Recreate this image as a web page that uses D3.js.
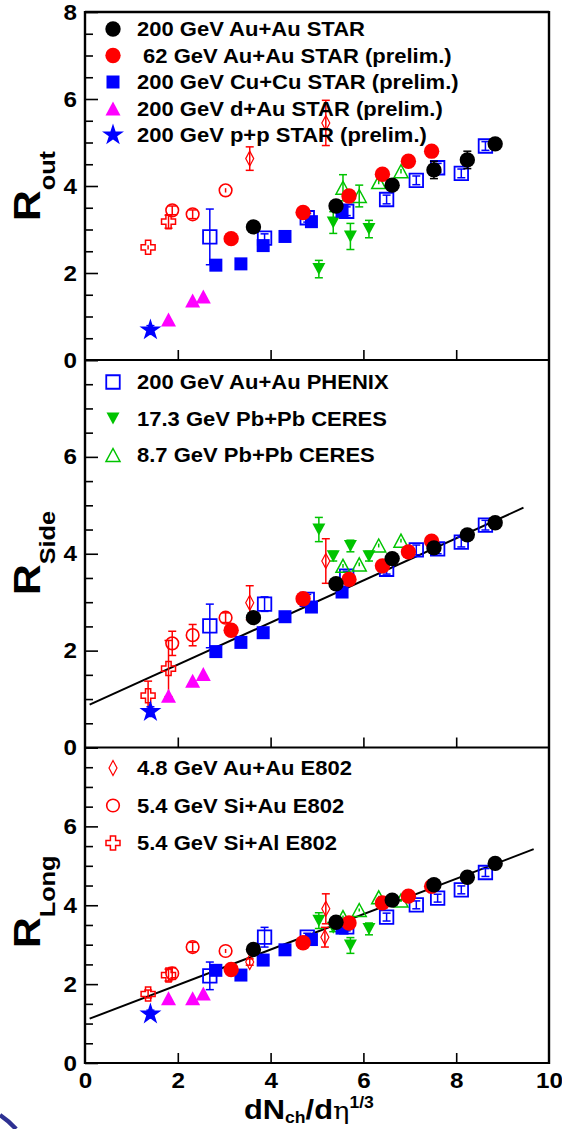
<!DOCTYPE html>
<html><head><meta charset="utf-8">
<script src="https://cdn.jsdelivr.net/npm/d3@7"></script>
<style>
body{margin:0;background:#fff}
svg{display:block}
text{font-family:"Liberation Sans",Arial,Helvetica,sans-serif;font-weight:bold;fill:#000}
</style>
</head><body>
<svg id="c" width="562" height="1129"></svg>
<script>
// ---------------- DATA ----------------
const xTicks = [0, 2, 4, 6, 8, 10];
const yTicksTop = [0, 2, 4, 6, 8];
const yTicksLower = [0, 2, 4, 6];

// 200 GeV Au+Au STAR
const xAuAu200 = [3.63, 5.41, 6.62, 7.52, 8.24, 8.84];
const outAuAu200 = [3.06, 3.54, 4.02, 4.37, 4.60, 4.97];
const sideAuAu200 = [2.68, 3.38, 3.90, 4.12, 4.39, 4.64];
const longAuAu200 = [2.88, 3.57, 4.13, 4.52, 4.71, 5.06];
const eOutAuAu200 = [0.10, 0.10, 0.10, 0.20, 0.20, 0.10];
const eSideAuAu200 = [0.08, 0.08, 0.08, 0.08, 0.08, 0.08];
const eLongAuAu200 = [0.08, 0.08, 0.08, 0.08, 0.08, 0.08];
// 62 GeV Au+Au STAR
const xAuAu62 = [3.15, 4.70, 5.69, 6.41, 6.97, 7.47];
const outAuAu62 = [2.79, 3.39, 3.77, 4.27, 4.57, 4.80];
const sideAuAu62 = [2.42, 3.07, 3.47, 3.75, 4.04, 4.26];
const longAuAu62 = [2.37, 3.05, 3.55, 4.06, 4.23, 4.48];
const eOutAuAu62 = [0.10, 0.10, 0.10, 0.10, 0.10, 0.10];
const eSideAuAu62 = [0.08, 0.08, 0.08, 0.08, 0.08, 0.08];
const eLongAuAu62 = [0.08, 0.08, 0.08, 0.08, 0.08, 0.08];
// 200 GeV Cu+Cu STAR
const xCuCu = [2.82, 3.36, 3.84, 4.31, 4.88, 5.54];
const outCuCu = [2.18, 2.21, 2.63, 2.84, 3.18, 3.42];
const sideCuCu = [1.98, 2.17, 2.37, 2.70, 2.90, 3.21];
const longCuCu = [2.35, 2.23, 2.61, 2.87, 3.13, 3.42];
// 200 GeV d+Au STAR
const xDAu = [1.80, 2.32, 2.55];
const outDAu = [0.93, 1.37, 1.46];
const sideDAu = [1.07, 1.38, 1.52];
const longDAu = [1.64, 1.64, 1.76];
// 200 GeV p+p STAR
const xPP = [1.41];
const outPP = [0.69];
const sidePP = [0.74];
const longPP = [1.24];
// 200 GeV Au+Au PHENIX
const xPhenix = [2.69, 3.87, 4.79, 5.64, 6.50, 7.14, 7.60, 8.11, 8.63];
const outPhenix = [2.83, 2.80, 3.27, 3.42, 3.69, 4.13, 4.42, 4.29, 4.92];
const sidePhenix = [2.51, 2.96, 3.06, 3.54, 3.68, 4.08, 4.10, 4.24, 4.59];
const longPhenix = [2.21, 3.19, 3.19, 3.45, 3.70, 4.01, 4.18, 4.39, 4.83];
const eOutPhenix = [0.64, 0.10, 0.10, 0.10, 0.10, 0.10, 0.10, 0.10, 0.10];
const eSidePhenix = [0.45, 0.15, 0.10, 0.10, 0.10, 0.10, 0.10, 0.10, 0.10];
const eLongPhenix = [0.35, 0.25, 0.10, 0.10, 0.10, 0.10, 0.10, 0.10, 0.10];
// 17.3 GeV Pb+Pb CERES
const xCeres17 = [5.04, 5.35, 5.72, 6.12];
const outCeres17 = [2.09, 3.16, 2.84, 3.01];
const sideCeres17 = [4.50, 3.95, 4.16, 3.95];
const longCeres17 = [3.61, 3.43, 2.98, 3.40];
const eOutCeres17 = [0.20, 0.25, 0.30, 0.20];
const eSideCeres17 = [0.25, 0.10, 0.12, 0.10];
const eLongCeres17 = [0.20, 0.10, 0.20, 0.15];
// 8.7 GeV Pb+Pb CERES
const xCeres87 = [5.56, 5.91, 6.33, 6.81];
const outCeres87 = [3.96, 3.77, 4.09, 4.34];
const sideCeres87 = [3.75, 3.78, 4.17, 4.27];
const longCeres87 = [3.70, 3.88, 4.20, 4.12];
const eOutCeres87 = [0.30, 0.25, 0.05, 0.05];
// 4.8 GeV Au+Au E802
const xE802AuAu = [3.55, 5.19];
const xE802AuAuLong = [3.55, 5.19, 5.17];
const outE802AuAu = [4.63, 5.45];
const sideE802AuAu = [2.99, 3.85];
const longE802AuAu = [2.56, 3.91, 3.19];
const eOutE802AuAu = [0.27, 0.52];
const eSideE802AuAu = [0.35, 0.46];
const eLongE802AuAu = [0.08, 0.38, 0.25];
// 5.4 GeV Si+Au E802
const xSiAu = [1.88, 2.32, 3.03];
const outSiAu = [3.44, 3.35, 3.90];
const sideSiAu = [2.15, 2.32, 2.68];
const longSiAu = [2.27, 2.94, 2.84];
const eOutSiAu = [0.10, 0.10, 0.05];
const eSideSiAu = [0.25, 0.22, 0.10];
const eLongSiAu = [0.15, 0.12, 0.05];
// 5.4 GeV Si+Al E802
const xSiAl = [1.36, 1.80];
const outSiAl = [2.59, 3.18];
const sideSiAl = [1.07, 1.63];
const longSiAl = [1.75, 2.23];
const eOutSiAl = [0.05, 0.15];
const eSideSiAl = [0.30, 0.58];
const eLongSiAl = [0.10, 0.15];

// linear fits (intercept, slope) and x ranges
const fitSide = [0.84, 0.435], fitSideRange = [0.1, 9.45];
const fitLong = [1.08, 0.449], fitLongRange = [0.1, 9.67];

const legendTop = ["200 GeV Au+Au STAR", " 62 GeV Au+Au STAR (prelim.)", "200 GeV Cu+Cu STAR (prelim.)", "200 GeV d+Au STAR (prelim.)", "200 GeV p+p STAR (prelim.)"];
const legendMid = ["200 GeV Au+Au PHENIX", "17.3 GeV Pb+Pb CERES", "8.7 GeV Pb+Pb CERES"];
const legendBot = ["4.8 GeV Au+Au E802", "5.4 GeV Si+Au E802", "5.4 GeV Si+Al E802"];

// ---------------- STYLE / SERIES TABLE ----------------
const RED = "#ff0000", BLUE = "#0000ff", GREEN = "#00c400", MAG = "#ff00ff", BLK = "#000000";
const zeros = n => new Array(n).fill(0.04);
const series = {
  phenix:  {x:[xPhenix,xPhenix,xPhenix], y:[outPhenix,sidePhenix,longPhenix], e:[eOutPhenix,eSidePhenix,eLongPhenix], m:"osq", c:BLUE},
  ceres17: {x:[xCeres17,xCeres17,xCeres17], y:[outCeres17,sideCeres17,longCeres17], e:[eOutCeres17,eSideCeres17,eLongCeres17], m:"tdn", c:GREEN},
  ceres87: {x:[xCeres87,xCeres87,xCeres87], y:[outCeres87,sideCeres87,longCeres87], e:[eOutCeres87,zeros(4),zeros(4)], m:"otri", c:GREEN},
  e802auau:{x:[xE802AuAu,xE802AuAu,xE802AuAuLong], y:[outE802AuAu,sideE802AuAu,longE802AuAu], e:[eOutE802AuAu,eSideE802AuAu,eLongE802AuAu], m:"dia", c:RED},
  siau:    {x:[xSiAu,xSiAu,xSiAu], y:[outSiAu,sideSiAu,longSiAu], e:[eOutSiAu,eSideSiAu,eLongSiAu], m:"ocirc", c:RED},
  sial:    {x:[xSiAl,xSiAl,xSiAl], y:[outSiAl,sideSiAl,longSiAl], e:[eOutSiAl,eSideSiAl,eLongSiAl], m:"ocross", c:RED},
  cucu:    {x:[xCuCu,xCuCu,xCuCu], y:[outCuCu,sideCuCu,longCuCu], e:[zeros(6),zeros(6),zeros(6)], m:"sq", c:BLUE},
  dau:     {x:[xDAu,xDAu,xDAu], y:[outDAu,sideDAu,longDAu], e:[zeros(3),zeros(3),zeros(3)], m:"tri", c:MAG},
  pp:      {x:[xPP,xPP,xPP], y:[outPP,sidePP,longPP], e:[[0.1],[0.1],[0.1]], m:"star", c:BLUE},
  auau62:  {x:[xAuAu62,xAuAu62,xAuAu62], y:[outAuAu62,sideAuAu62,longAuAu62], e:[eOutAuAu62,eSideAuAu62,eLongAuAu62], m:"circ", c:RED},
  auau200: {x:[xAuAu200,xAuAu200,xAuAu200], y:[outAuAu200,sideAuAu200,longAuAu200], e:[eOutAuAu200,eSideAuAu200,eLongAuAu200], m:"circ", c:BLK}
};
const drawOrder = ["phenix","ceres17","ceres87","e802auau","siau","sial","cucu","dau","pp","auau62","auau200"];

function markerPath(m){
  switch(m){
    case "circ": return d3.symbol(d3.symbolCircle, 185)();
    case "ocirc": return d3.symbol(d3.symbolCircle, 125)();
    case "sq": { const s=13; return `M${-s/2},${-s/2}h${s}v${s}h${-s}Z`; }
    case "osq": { const s=13.5; return `M${-s/2},${-s/2}h${s}v${s}h${-s}Z`; }
    case "tri": { const w=15,h=14; return `M0,${-h/2}L${w/2},${h/2}L${-w/2},${h/2}Z`; }
    case "otri": { const w=14,h=13; return `M0,${-h/2}L${w/2},${h/2}L${-w/2},${h/2}Z`; }
    case "tdn": { const w=13,h=12; return `M0,${h/2}L${w/2},${-h/2}L${-w/2},${-h/2}Z`; }
    case "dia": { const w=8,h=15; return `M0,${-h/2}L${w/2},0L0,${h/2}L${-w/2},0Z`; }
    case "ocross": { const a=2.6,L=7; return `M${-a},${-L}H${a}V${-a}H${L}V${a}H${a}V${L}H${-a}V${a}H${-L}V${-a}H${-a}Z`; }
    case "star": return d3.symbol(d3.symbolStar, 150)();
  }
}
const filled = m => ["circ","sq","tri","tdn","star"].includes(m);
const sw = m => ({osq:1.8, otri:1.5, dia:1.2, ocirc:1.6, ocross:1.5})[m] || 0;

// ---------------- LAYOUT ----------------
const svg = d3.select("#c");
const X0 = 85, X1 = 549;
const x = d3.scaleLinear().domain([0,10]).range([X0, X1]);
const panels = [
  {range:[360,12], yTicks:yTicksTop, sub:"out", titleStart:221, fit:null, legend:legendTop, legKeys:["auau200","auau62","cucu","dau","pp"], legY:29, legStep:26.5},
  {range:[747.5,360], yTicks:yTicksLower, sub:"Side", titleStart:595, fit:[fitSide,fitSideRange], legend:legendMid, legKeys:["phenix","ceres17","ceres87"], legY:382, legStep:36.5},
  {range:[1063,747.5], yTicks:yTicksLower, sub:"Long", titleStart:948, fit:[fitLong,fitLongRange], legend:legendBot, legKeys:["e802auau","siau","sial"], legY:768, legStep:37.5}
];

const TEXT_STRETCH = 1.1;

panels.forEach((p, pi) => {
  const y = d3.scaleLinear().domain([0,8]).range(p.range);
  const g = svg.append("g");

  const minor = d3.range(0.5, 8, 0.5).filter(v => v % 2 !== 0);
  g.append("g").attr("transform",`translate(${X0},0)`)
    .call(d3.axisRight(y).tickValues(minor).tickSize(8).tickFormat(""))
    .call(s => s.select(".domain").remove())
    .selectAll("line").attr("stroke","#000").attr("stroke-width",1.6);
  g.append("g").attr("transform",`translate(${X0},0)`)
    .call(d3.axisRight(y).tickValues([0,2,4,6,8]).tickSize(13).tickFormat(""))
    .call(s => s.select(".domain").remove())
    .selectAll("line").attr("stroke","#000").attr("stroke-width",1.6);
  const yl = g.append("g").attr("transform",`translate(${X0},0)`)
    .call(d3.axisLeft(y).tickValues(p.yTicks).tickSize(0).tickPadding(8).tickFormat(d3.format("d")));
  yl.select(".domain").remove();
  yl.selectAll("text").attr("font-size",22).attr("font-weight","bold")
    .attr("font-family",'"Liberation Sans",Arial,sans-serif').attr("fill","#000")
    .each(function(){ const t=d3.select(this); const xx=+t.attr("x"); t.attr("x",null).attr("transform",`translate(${xx},0) scale(${TEXT_STRETCH},1)`); });

  g.append("g").attr("transform",`translate(0,${p.range[0]})`)
    .call(d3.axisTop(x).tickValues([2,4,6,8]).tickSize(10).tickFormat(""))
    .call(s => s.select(".domain").remove())
    .selectAll("line").attr("stroke","#000").attr("stroke-width",1.6);

  g.append("line").attr("x1",X0).attr("x2",X1).attr("y1",p.range[0]).attr("y2",p.range[0])
    .attr("stroke","#000").attr("stroke-width",2.2);

  if (p.fit){
    const [[a,b],[x0,x1]] = p.fit;
    const line = d3.line().x(d=>x(d)).y(d=>y(a+b*d));
    g.append("path").attr("d", line([x0,x1])).attr("stroke","#000").attr("stroke-width",2).attr("fill","none");
  }

  drawOrder.forEach(k => {
    const s = series[k];
    const xs = s.x[pi], ys = s.y[pi], es = s.e[pi];
    const pts = xs.map((xv,i)=>({x:xv, y:ys[i], e:es[i]}));
    const sg = g.append("g");
    const eb = sg.selectAll(".eb").data(pts).join("g");
    eb.append("line").attr("x1",d=>x(d.x)).attr("x2",d=>x(d.x))
      .attr("y1",d=>y(d.y-d.e)).attr("y2",d=>y(d.y+d.e)).attr("stroke",s.c).attr("stroke-width",1.5);
    eb.filter(d=>d.e>0.06).append("line").attr("x1",d=>x(d.x)-4).attr("x2",d=>x(d.x)+4)
      .attr("y1",d=>y(d.y+d.e)).attr("y2",d=>y(d.y+d.e)).attr("stroke",s.c).attr("stroke-width",1.5);
    eb.filter(d=>d.e>0.06).append("line").attr("x1",d=>x(d.x)-4).attr("x2",d=>x(d.x)+4)
      .attr("y1",d=>y(d.y-d.e)).attr("y2",d=>y(d.y-d.e)).attr("stroke",s.c).attr("stroke-width",1.5);
    sg.selectAll(".mk").data(pts).join("path")
      .attr("d", markerPath(s.m))
      .attr("transform", d=>`translate(${x(d.x)},${y(d.y)})`)
      .attr("fill", filled(s.m) ? s.c : "#fff")
      .attr("fill-opacity", filled(s.m) ? 1 : 0)
      .attr("stroke", filled(s.m) ? "none" : s.c)
      .attr("stroke-width", sw(s.m));
  });

  p.legKeys.forEach((k,i) => {
    const s = series[k];
    const ly = p.legY + i*p.legStep;
    g.append("path").attr("d", markerPath(s.m)).attr("transform",`translate(113,${ly})`)
      .attr("fill", filled(s.m) ? s.c : "none")
      .attr("stroke", filled(s.m) ? "none" : s.c)
      .attr("stroke-width", sw(s.m));
    g.append("text").attr("transform",`translate(137,${ly+7}) scale(${TEXT_STRETCH},1)`)
      .attr("font-size",20).style("white-space","pre").text(p.legend[i]);
  });

  const t = svg.append("text").attr("transform",`translate(40,${p.titleStart}) rotate(-90) scale(1.15,1)`);
  t.append("tspan").attr("font-size",37).text("R");
  t.append("tspan").attr("font-size",22).attr("dy",15).text(p.sub);
});

// frame
svg.append("line").attr("x1",X0).attr("x2",X0).attr("y1",11).attr("y2",1064).attr("stroke","#000").attr("stroke-width",2.4);
svg.append("line").attr("x1",X1).attr("x2",X1).attr("y1",11).attr("y2",1064).attr("stroke","#000").attr("stroke-width",2.4);
svg.append("line").attr("x1",X0).attr("x2",X1).attr("y1",12).attr("y2",12).attr("stroke","#000").attr("stroke-width",2.4);

// x labels
const xl = svg.append("g").attr("transform",`translate(0,1063)`)
  .call(d3.axisBottom(x).tickValues(xTicks).tickSize(0).tickPadding(9).tickFormat(d3.format("d")));
xl.select(".domain").remove();
xl.selectAll("text").attr("font-size",22).attr("font-weight","bold")
  .attr("font-family",'"Liberation Sans",Arial,sans-serif').attr("fill","#000")
  .each(function(){ const t=d3.select(this); const yy=+t.attr("y"); t.attr("y",null).attr("transform",`translate(0,${yy}) scale(${TEXT_STRETCH},1)`); });

// x title
const xt = svg.append("text").attr("transform",`translate(244,1119) scale(1.1,1)`);
xt.append("tspan").attr("font-size",28).text("dN");
xt.append("tspan").attr("font-size",16).attr("dy",4).text("ch");
xt.append("tspan").attr("font-size",28).attr("dy",-4).text("/d");
xt.append("tspan").attr("font-size",25).attr("font-weight","normal").attr("font-family","DejaVu Serif, serif").text("η");
xt.append("tspan").attr("font-size",16).attr("dy",-11).text("1/3");

// corner decoration
svg.append("path").attr("d","M0,1115 Q9,1121 16,1129").attr("stroke","#2e3192").attr("stroke-width",4.5).attr("fill","none");
</script>
</body></html>
